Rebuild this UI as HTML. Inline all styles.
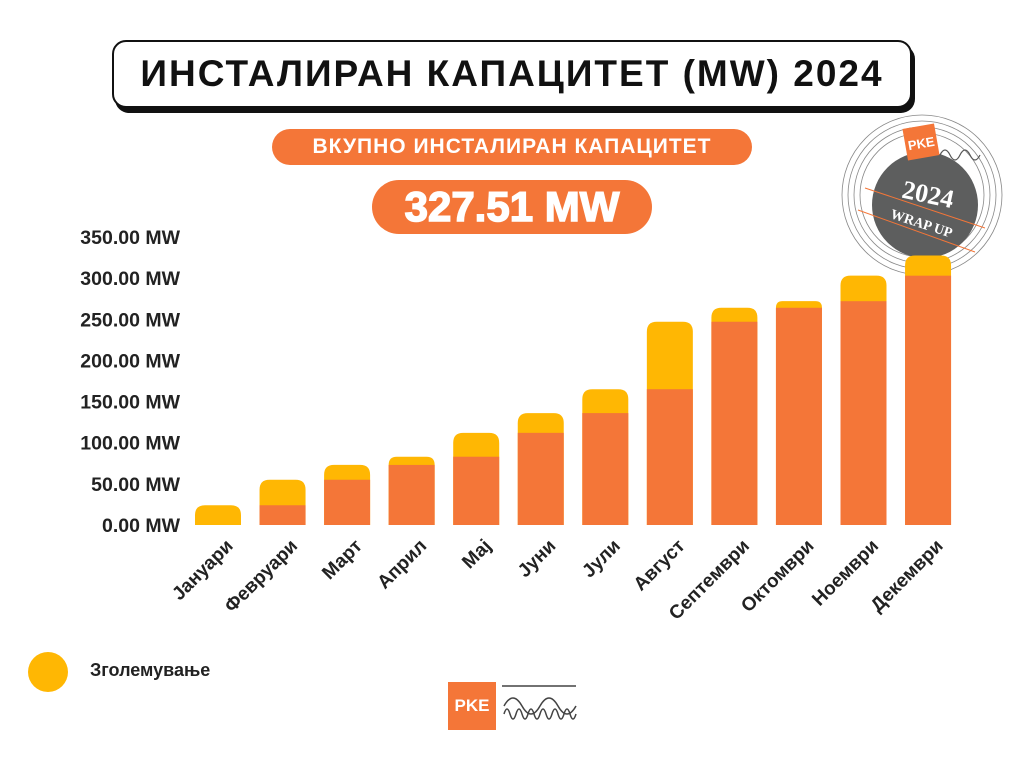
<!DOCTYPE html>
<html><head><meta charset="utf-8">
<style>
body{margin:0;width:1024px;height:768px;background:#fff;font-family:"Liberation Sans",sans-serif;position:relative;overflow:hidden}
.abs{position:absolute}
</style></head><body>
<div class="abs" style="left:112px;top:40px;width:796px;height:64px;border:2px solid #111;border-radius:14px;box-shadow:3px 5px 0 #111;background:#fff;text-align:center;line-height:64px;font-weight:bold;font-size:37px;letter-spacing:2px;color:#111">ИНСТАЛИРАН КАПАЦИТЕТ (MW) 2024</div>
<div class="abs" style="left:272px;top:129px;width:480px;height:36px;border-radius:18px;background:#f47638;color:#fff;font-weight:bold;font-size:21px;text-align:center;line-height:36px;letter-spacing:1px">ВКУПНО ИНСТАЛИРАН КАПАЦИТЕТ</div>
<div class="abs" style="left:372px;top:180px;width:280px;height:54px;border-radius:27px;background:#f47638;color:#fff;font-weight:900;font-size:42px;text-align:center;line-height:54px;-webkit-text-stroke:1.5px #fff">327.51 MW</div>
<svg class="abs" style="left:0;top:0" width="1024" height="768">
<g>
<circle cx="922" cy="195" r="80" fill="none" stroke="#888" stroke-width="0.8"/>
<circle cx="922" cy="195" r="74" fill="none" stroke="#888" stroke-width="0.8"/>
<circle cx="922" cy="195" r="68" fill="none" stroke="#888" stroke-width="0.8"/>
<circle cx="922" cy="195" r="62" fill="none" stroke="#888" stroke-width="0.8"/>
<circle cx="925" cy="205" r="53" fill="#5d5e5e"/>
<rect x="905" y="126" width="32" height="32" fill="#f47638" transform="rotate(-10 921 142)"/>
<text x="921" y="148" font-size="13" font-weight="bold" fill="#fff" text-anchor="middle" transform="rotate(-10 921 142)">PKE</text>
<path d="M940 155 q5 -10 10 0 t10 0 t10 0 t10 0" fill="none" stroke="#555" stroke-width="1.2"/>
<text x="928" y="203" font-size="26" font-weight="bold" fill="#fff" font-family="Liberation Serif,serif" text-anchor="middle" transform="rotate(12 928 195)">2024</text>
<text x="922" y="228" font-size="14" font-weight="bold" fill="#fff" font-family="Liberation Serif,serif" text-anchor="middle" transform="rotate(18 922 222)">WRAP UP</text>
<line x1="865" y1="188" x2="985" y2="228" stroke="#f47638" stroke-width="1"/>
<line x1="858" y1="210" x2="975" y2="252" stroke="#f47638" stroke-width="1"/>
</g>
<g id="yaxis"></g><g id="bars"></g><g id="xlabels"></g>
</svg>
<div class="abs" style="left:28px;top:652px;width:40px;height:40px;border-radius:50%;background:#ffb703"></div>
<div class="abs" style="left:90px;top:660px;font-size:18px;font-weight:bold;color:#222">Зголемување</div>
<div class="abs" style="left:448px;top:682px;width:48px;height:48px;background:#f47638;color:#fff;font-weight:bold;font-size:17px;text-align:center;line-height:48px">PKE</div>
<svg class="abs" style="left:500px;top:684px" width="80" height="40">
<line x1="2" y1="2" x2="76" y2="2" stroke="#444" stroke-width="1.5"/>
<path d="M4 22 q9 -16 18 0 t18 0 t18 0 t18 0" fill="none" stroke="#444" stroke-width="1.5"/>
<path d="M4 30 q3 -10 6 0 t6 0 t6 0 t6 0 t6 0 t6 0 t6 0 t6 0 t6 0 t6 0 t6 0 t6 0" fill="none" stroke="#444" stroke-width="1.5"/>
</svg>
<script>
const months=["Јануари","Февруари","Март","Април","Мај","Јуни","Јули","Август","Септември","Октомври","Ноември","Декември"];
const baseValues=[0,24,55,73,83,112,136,165,247,264,272,303];
const increaseValues=[24,31,18,10,29,24,29,82,17,8,31,24.5];
const yTicks=[0,50,100,150,200,250,300,350];
const NS="http://www.w3.org/2000/svg";
const y0=525,pxPer=288/350,x0=218,step=64.55,bw=46;
const Y=v=>y0-v*pxPer, X=i=>x0+i*step;
const ya=document.getElementById('yaxis'),bg=document.getElementById('bars'),xl=document.getElementById('xlabels');
yTicks.forEach(t=>{const e=document.createElementNS(NS,'text');e.setAttribute('x',180);e.setAttribute('y',Y(t)+7);e.setAttribute('text-anchor','end');e.setAttribute('font-size','19.5');e.setAttribute('font-weight','bold');e.setAttribute('fill','#222');e.textContent=t.toFixed(2)+' MW';


ya.appendChild(e);});
months.forEach((m,i)=>{
 const tot=baseValues[i]+increaseValues[i];
 const inc=document.createElementNS(NS,'path');
 const l=X(i)-bw/2,r=X(i)+bw/2,top=Y(tot),rad=Math.min(10,(Y(baseValues[i])-top));
 inc.setAttribute('d',`M${l} ${y0} L${l} ${top+rad} Q${l} ${top} ${l+rad} ${top} L${r-rad} ${top} Q${r} ${top} ${r} ${top+rad} L${r} ${y0} Z`);
 inc.setAttribute('fill','#ffb703');
 
 
 bg.appendChild(inc);
 if(baseValues[i]>0){const b=document.createElementNS(NS,'rect');b.setAttribute('x',l);b.setAttribute('y',Y(baseValues[i]));b.setAttribute('width',bw);b.setAttribute('height',y0-Y(baseValues[i]));b.setAttribute('fill','#f47638');
 
 
 bg.appendChild(b);}
 const t=document.createElementNS(NS,'text');const tx=X(i)+16,ty=547;
 t.setAttribute('x',tx);t.setAttribute('y',ty);t.setAttribute('text-anchor','end');t.setAttribute('font-size','19');t.setAttribute('font-weight','bold');t.setAttribute('fill','#222');t.setAttribute('transform',`rotate(-45 ${tx} ${ty})`);t.textContent=m;
 
 
 xl.appendChild(t);
});
</script>
</body></html>
